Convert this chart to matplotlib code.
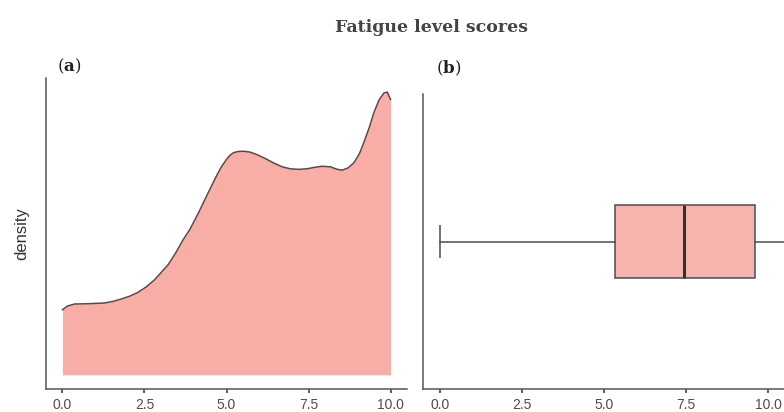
import matplotlib
matplotlib.use("Agg")
import matplotlib.pyplot as plt

plt.rcParams["mathtext.fontset"] = "custom"
plt.rcParams["mathtext.rm"] = "DejaVu Serif"
plt.rcParams["mathtext.bf"] = "DejaVu Serif:bold"

# Density estimate of fatigue scores (score, density)
score_grid = [0.0, 0.15, 0.37, 0.77, 1.28, 1.55, 1.79, 2.05, 2.30, 2.55, 2.81,
              3.22, 3.45, 3.68, 3.88, 4.14, 4.39, 4.58, 4.72, 4.85, 5.00, 5.10,
              5.21, 5.35, 5.51, 5.72, 5.92, 6.18, 6.43, 6.70, 6.94, 7.20, 7.45,
              7.70, 7.91, 8.17, 8.35, 8.52, 8.70, 8.88, 9.05, 9.18, 9.35, 9.49,
              9.65, 9.80, 9.90, 10.0]
density = [0.0459, 0.0485, 0.0500, 0.0502, 0.0507, 0.0519, 0.0535, 0.0555,
           0.0582, 0.0620, 0.0671, 0.0777, 0.0860, 0.0954, 0.1025, 0.1140,
           0.1260, 0.1350, 0.1415, 0.1470, 0.1520, 0.1548, 0.1567, 0.1576,
           0.1578, 0.1572, 0.1555, 0.1527, 0.1496, 0.1468, 0.1454, 0.1450,
           0.1454, 0.1465, 0.1472, 0.1468, 0.1452, 0.1444, 0.1460, 0.1496,
           0.1560, 0.1637, 0.1745, 0.1850, 0.1940, 0.1990, 0.1995, 0.1943]

# Box plot summary of fatigue scores
box_stats = {"whislo": 0.0, "q1": 5.32, "med": 7.44, "q3": 9.58, "whishi": 10.5}

x_ticks = [0.0, 2.5, 5.0, 7.5, 10.0]
x_tick_labels = ["0.0", "2.5", "5.0", "7.5", "10.0"]

title = "Fatigue level scores"

fill_color = "#F8ADA7"
box_color = "#F8B3AF"
line_color = "#4D4D4D"
axis_color = "#555555"
text_color = "#4D4D4D"

W, H = 784, 412
fig = plt.figure(figsize=(W / 100, H / 100), dpi=100)


def px_axes(x0, y_top, x1, y_bottom):
    return fig.add_axes([x0 / W, 1 - y_bottom / H, (x1 - x0) / W, (y_bottom - y_top) / H])


def style(ax):
    for s in ("top", "right"):
        ax.spines[s].set_visible(False)
    for s in ("left", "bottom"):
        ax.spines[s].set_color(axis_color)
        ax.spines[s].set_linewidth(1.1)
    ax.set_yticks([])
    ax.set_xticks(x_ticks)
    ax.set_xticklabels(x_tick_labels, family="Liberation Sans", fontsize=10, color=text_color)
    ax.tick_params(axis="x", direction="out", length=3, width=1.1, color="#333333", pad=3.5)


# (a) density
ax1 = px_axes(46, 78, 407, 389)
ax1.fill_between(score_grid, 0, density, color=fill_color, linewidth=0)
ax1.plot(score_grid, density, color=line_color, linewidth=1.1)
xr = max(score_grid) - min(score_grid)
ax1.set_xlim(min(score_grid) - 0.05 * xr, max(score_grid) + 0.05 * xr)
dmax = max(density)
ax1.set_ylim(-0.05 * dmax, 1.05 * dmax)
style(ax1)
ax1.set_ylabel("density", family="Liberation Sans", fontsize=12, color="#333333", labelpad=12)

# (b) box plot
ax2 = px_axes(423, 94, 802, 389)
ax2.bxp([dict(box_stats, fliers=[])], positions=[0], widths=0.3, vert=False,
        patch_artist=True, showcaps=False, showfliers=False,
        boxprops=dict(facecolor=box_color, edgecolor=line_color, linewidth=1.1),
        whiskerprops=dict(color=line_color, linewidth=1.1),
        medianprops=dict(color="#333333", linewidth=2.2))
ax2.vlines(box_stats["whislo"], -0.069, 0.069, color=line_color, linewidth=1.1)
br = box_stats["whishi"] - box_stats["whislo"]
ax2.set_xlim(box_stats["whislo"] - 0.05 * br, box_stats["whishi"] + 0.05 * br)
ax2.set_ylim(-0.6, 0.6)
style(ax2)

# Panel tags and title
fig.text(69 / W, 1 - 66 / H, r"($\mathbf{a}$)", ha="center", va="center",
         family="DejaVu Serif", fontsize=12, color="#222222")
fig.text(449 / W, 1 - 68 / H, r"($\mathbf{b}$)", ha="center", va="center",
         family="DejaVu Serif", fontsize=12, color="#222222")
fig.text(432 / W, 1 - 27 / H, title, ha="center", va="center",
         family="DejaVu Serif", fontweight="bold", fontsize=12.5, color="#444444")

fig.savefig("out.png", dpi=100)
